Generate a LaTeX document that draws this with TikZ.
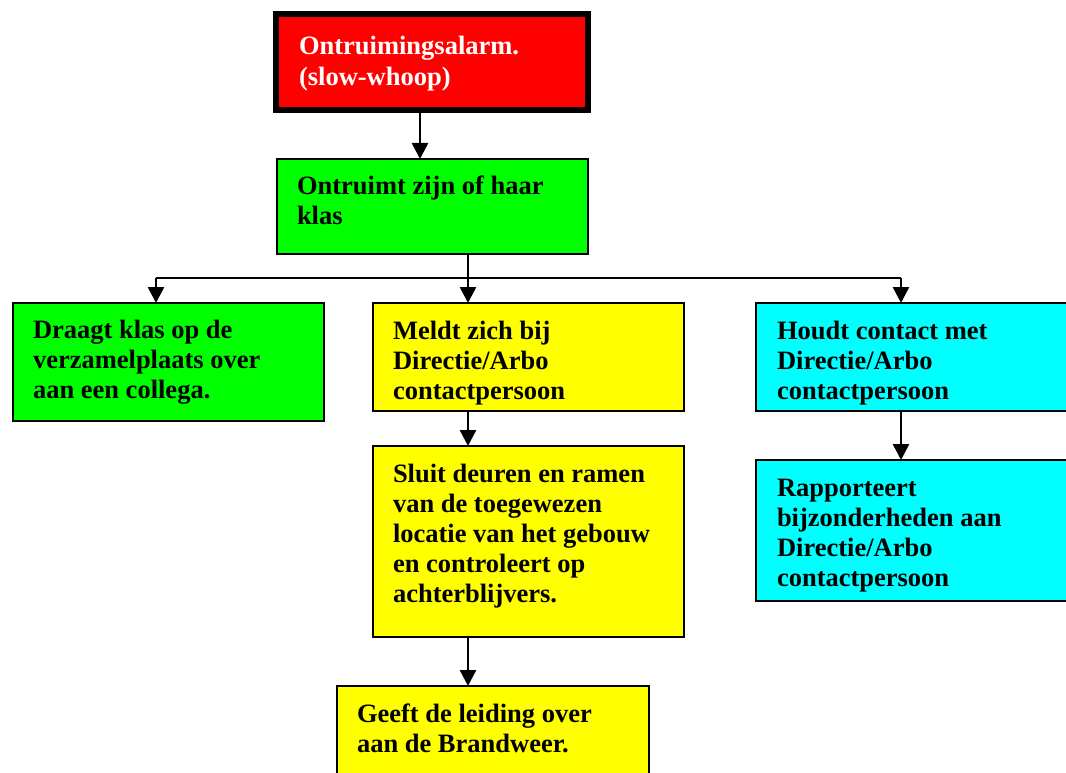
\documentclass[tikz,border=0pt]{standalone}
\usepackage{fontspec}
\setmainfont{Liberation Serif}
\usetikzlibrary{arrows.meta,calc}
\definecolor{alarmred}{RGB}{255,0,0}
\definecolor{boxgreen}{RGB}{0,255,0}
\definecolor{boxyellow}{RGB}{255,255,0}
\definecolor{boxcyan}{RGB}{0,255,255}
\begin{document}
\begin{tikzpicture}[x=1pt,y=-1pt,
  box/.style={draw=black, line width=2pt, anchor=north west, inner sep=0pt, outer sep=0pt},
  txt/.style={anchor=north west, inner sep=0pt, outer sep=0pt, align=left,
              font=\fontsize{26.5}{30}\selectfont\bfseries},
  arr/.style={line width=2.5pt, -{Triangle[width=16pt,length=16pt]}},
  ln/.style={line width=2.5pt}]
\useasboundingbox (0,0) rectangle (1066,773);
\clip (0,0) rectangle (1066,773);

% boxes
\node[box, fill=alarmred, line width=6pt, minimum width=312pt, minimum height=96pt] (alarm) at (276,14) {};
\node[box, fill=boxgreen, minimum width=311pt, minimum height=95pt] (klas) at (277,159) {};
\node[box, fill=boxgreen, minimum width=311pt, minimum height=118pt] (over) at (13,303) {};
\node[box, fill=boxyellow, minimum width=311pt, minimum height=108pt] (meld) at (373,303) {};
\node[box, fill=boxcyan, minimum width=330pt, minimum height=108pt] (contact) at (756,303) {};
\node[box, fill=boxyellow, minimum width=311pt, minimum height=191pt] (sluit) at (373,446) {};
\node[box, fill=boxcyan, minimum width=330pt, minimum height=141pt] (rapport) at (756,460) {};
\node[box, fill=boxyellow, minimum width=312pt, minimum height=120pt] (brand) at (337,686) {};

% texts
\node[txt, text=white, font=\fontsize{26.5}{31}\selectfont\bfseries] (talarm) at ($(alarm.north west)+(23,19)$) {\strut Ontruimingsalarm.\\(slow-whoop)};
\node[txt] (tklas) at ($(klas.north west)+(20,14)$) {\strut Ontruimt zijn of haar\\klas};
\node[txt] (tover) at ($(over.north west)+(20,14)$) {\strut Draagt klas op de\\verzamelplaats over\\aan een collega.};
\node[txt] (tmeld) at ($(meld.north west)+(20,15)$) {\strut Meldt zich bij\\Directie/Arbo\\contactpersoon};
\node[txt] (tcontact) at ($(contact.north west)+(21,15)$) {\strut Houdt contact met\\Directie/Arbo\\contactpersoon};
\node[txt] (tsluit) at ($(sluit.north west)+(20,15)$) {\strut Sluit deuren en ramen\\van de toegewezen\\locatie van het gebouw\\en controleert op\\achterblijvers.};
\node[txt] (trapport) at ($(rapport.north west)+(21,15)$) {\strut Rapporteert\\bijzonderheden aan\\Directie/Arbo\\contactpersoon};
\node[txt] (tbrand) at ($(brand.north west)+(20,15)$) {\strut Geeft de leiding over\\aan de Brandweer.};

% branch points
\coordinate (bl) at (156,278);
\coordinate (bm) at (468,278);
\coordinate (br) at (901,278);
\coordinate (ax) at (420,0);

% connectors
\draw[arr] (alarm.south -| ax) -- (klas.north -| ax);
\draw[ln] (klas.south -| bm) -- (bm);
\draw[ln] (bl) -- (br);
\draw[arr] (bl) -- (over.north -| bl);
\draw[arr] (bm) -- (meld.north -| bm);
\draw[arr] (br) -- (contact.north -| br);
\draw[arr] (meld.south -| bm) -- (sluit.north -| bm);
\draw[arr] (sluit.south -| bm) -- (brand.north -| bm);
\draw[arr] (contact.south -| br) -- (rapport.north -| br);
\end{tikzpicture}
\end{document}
